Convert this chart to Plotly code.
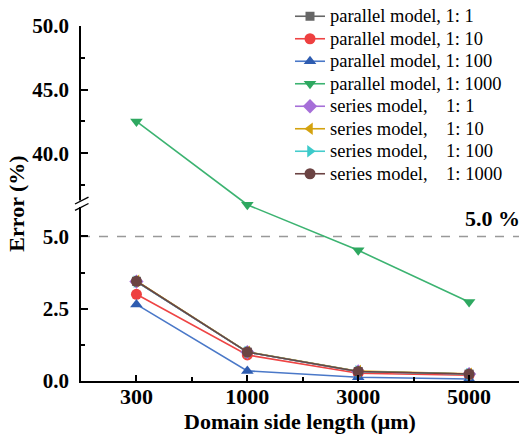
import plotly.graph_objects as go

# ---------------- data ----------------
categories = ["300", "1000", "3000", "5000"]

par_1 = [3.45, 1.00, 0.33, 0.24]
par_10 = [3.00, 0.90, 0.27, 0.20]
par_100 = [2.65, 0.35, 0.13, 0.07]
par_1000 = [42.5, 20.0, 4.52, 2.73]
ser_1 = [3.44, 1.00, 0.33, 0.24]
ser_10 = [3.46, 1.01, 0.34, 0.25]
ser_100 = [3.44, 1.00, 0.33, 0.24]
ser_1000 = [3.45, 1.00, 0.33, 0.24]

names = [
    "parallel model, 1: 1",
    "parallel model, 1: 10",
    "parallel model, 1: 100",
    "parallel model, 1: 1000",
    "series model,\u00a0\u00a0\u00a0\u00a01: 1",
    "series model,\u00a0\u00a0\u00a0\u00a01: 10",
    "series model,\u00a0\u00a0\u00a0\u00a01: 100",
    "series model,\u00a0\u00a0\u00a0\u00a01: 1000",
]
series = [par_1, par_10, par_100, par_1000, ser_1, ser_10, ser_100, ser_1000]

y_major = [0.0, 2.5, 5.0, 40.0, 45.0, 50.0]
y_major_text = ["0.0", "2.5", "5.0", "40.0", "45.0", "50.0"]
y_minor = [1.25, 3.75, 37.5, 42.5, 47.5]
threshold = 5.0

# ---------------- styles ----------------
line_colors = ["#666666", "#ee4444", "#4a78c8", "#3cb371",
               "#a66fd8", "#d4a20f", "#45cccc", "#6b4343"]
marker_colors = ["#666666", "#ee4040", "#2e5cb0", "#2ea860",
                 "#a66fd8", "#d4a20f", "#3ccaca", "#6b4343"]
symbols = ["square", "circle", "triangle-up", "triangle-down",
           "diamond", "triangle-left", "triangle-right", "circle"]
sizes = [9, 11, 11, 11, 11, 11, 11, 11]

# ---------------- broken axis scale ----------------
L_TOP = 6.0      # top of lower segment
U_BOT = 36.2     # bottom of upper segment
GAP = 0.207      # size of break zone (lower-segment units)
K_UP = 0.44      # scale ratio upper/lower


def f(v):
    if v <= L_TOP:
        return v
    if v >= U_BOT:
        return L_TOP + GAP + (v - U_BOT) * K_UP
    return L_TOP + GAP * (v - L_TOP) / (U_BOT - L_TOP)


Y_MAX = f(50.0)
x_idx = list(range(len(categories)))

FONT = "Liberation Serif"

fig = go.Figure()
for nm, vals, lc, mc, sym, sz in zip(names, series, line_colors, marker_colors, symbols, sizes):
    fig.add_trace(go.Scatter(
        x=x_idx, y=[f(v) for v in vals],
        name='<span style="font-size:18.5px">' + nm + "</span>",
        mode="lines+markers",
        line=dict(color=lc, width=1.6),
        marker=dict(symbol=sym, size=sz, color=mc, line=dict(width=0)),
        cliponaxis=False,
    ))

# layout geometry (px)
W, H = 519, 445
ML, MR, MT, MB = 81, 0, 25, 64
ph = H - MT - MB


def py(px):  # pixel row -> paper y
    return (H - MB - px) / ph


shapes = [
    # dashed 5% line
    dict(type="line", xref="paper", x0=0, x1=1, yref="y", y0=f(threshold), y1=f(threshold),
         line=dict(color="#999999", width=1.5, dash="dash"), layer="below"),
    # gap in axis line
    dict(type="rect", xref="paper", yref="paper", x0=-3 / 438, x1=3 / 438,
         y0=py(206.5), y1=py(200.0), fillcolor="white", line=dict(width=0), layer="above"),
    # break slashes
    dict(type="line", xref="paper", yref="paper", x0=-6 / 438, x1=7.5 / 438,
         y0=py(203.5), y1=py(196.5), line=dict(color="black", width=1.4), layer="above"),
    dict(type="line", xref="paper", yref="paper", x0=-6 / 438, x1=7.5 / 438,
         y0=py(210.0), y1=py(203.0), line=dict(color="black", width=1.4), layer="above"),
]

fig.update_layout(
    width=W, height=H,
    margin=dict(l=ML, r=MR, t=MT, b=MB),
    paper_bgcolor="white", plot_bgcolor="white",
    font=dict(family=FONT, color="black"),
    showlegend=True,
    legend=dict(x=(290 - ML) / 438, xanchor="left", y=py(-1), yanchor="top",
                font=dict(family=FONT, size=15, color="black"),
                bgcolor="rgba(0,0,0,0)", borderwidth=0, tracegroupgap=0),
    shapes=shapes,
    annotations=[dict(text="5.0 %", xref="paper", x=1.0, xanchor="right",
                      yref="y", y=f(threshold), yanchor="bottom", yshift=3, xshift=3,
                      showarrow=False,
                      font=dict(family=FONT, size=22, color="black", weight="bold"))],
)

fig.update_xaxes(
    range=[-0.5, 3.45], tickmode="array", tickvals=x_idx, ticktext=categories,
    showline=True, linecolor="black", linewidth=1.5, showgrid=False, zeroline=False,
    ticks="inside", ticklen=6, tickwidth=1.5, tickcolor="black",
    minor=dict(tickmode="array", tickvals=[0.5, 1.5, 2.5], ticks="inside",
               ticklen=4, tickwidth=1.5, tickcolor="black"),
    tickfont=dict(family=FONT, size=22, color="black", weight="bold"),
    ticklabelstandoff=-5,
    title=dict(text="Domain side length (\u03bcm)", standoff=0,
               font=dict(family=FONT, size=22, color="black", weight="bold")),
)

fig.update_yaxes(
    range=[0, Y_MAX], tickmode="array", tickvals=[f(v) for v in y_major], ticktext=y_major_text,
    showline=True, linecolor="black", linewidth=1.5, showgrid=False, zeroline=False,
    ticks="inside", ticklen=7, tickwidth=1.5, tickcolor="black",
    minor=dict(tickmode="array", tickvals=[f(v) for v in y_minor], ticks="inside",
               ticklen=4, tickwidth=1.5, tickcolor="black"),
    tickfont=dict(family=FONT, size=21, color="black", weight="bold"),
    ticklabelstandoff=6,
    title=dict(text="Error (%)", standoff=2,
               font=dict(family=FONT, size=22, color="black", weight="bold")),
)

fig.write_html("out.html")
